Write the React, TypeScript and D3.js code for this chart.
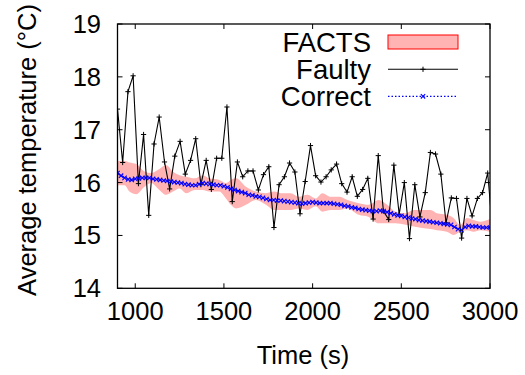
import React from "react";
import * as d3 from "d3";

const faultyTime = [900, 929, 959, 988, 1018, 1047, 1076, 1106, 1135, 1165, 1194, 1223, 1253, 1282, 1312, 1341, 1370, 1400, 1429, 1459, 1488, 1517, 1547, 1576, 1606, 1635, 1664, 1694, 1723, 1753, 1782, 1811, 1841, 1870, 1900, 1929, 1958, 1988, 2017, 2047, 2076, 2105, 2135, 2164, 2194, 2223, 2252, 2282, 2311, 2341, 2370, 2399, 2429, 2458, 2488, 2517, 2546, 2576, 2605, 2635, 2664, 2693, 2723, 2752, 2782, 2811, 2840, 2870, 2899, 2929, 2958, 2987, 3017];
const faultyTemp = [17.39, 16.38, 17.72, 18.02, 15.98, 16.91, 15.38, 16.73, 17.24, 16.39, 15.88, 16.50, 16.78, 16.16, 16.42, 16.83, 15.96, 16.42, 15.87, 16.46, 16.46, 17.43, 15.64, 16.39, 16.11, 16.22, 16.22, 15.86, 16.15, 16.30, 15.15, 15.96, 16.11, 16.37, 16.20, 15.41, 16.02, 16.70, 16.13, 16.01, 16.11, 16.24, 16.35, 15.98, 15.82, 16.11, 15.74, 15.87, 16.08, 15.31, 16.51, 15.46, 15.30, 16.33, 15.40, 16.00, 14.94, 15.96, 15.35, 15.81, 16.57, 16.54, 16.16, 15.24, 15.71, 15.70, 14.95, 15.70, 15.37, 15.70, 15.81, 16.18, 15.0];

const correctTime = [900, 920, 940, 960, 980, 1000, 1020, 1040, 1060, 1080, 1100, 1120, 1140, 1160, 1180, 1200, 1220, 1240, 1260, 1280, 1300, 1320, 1340, 1360, 1380, 1400, 1420, 1440, 1460, 1480, 1500, 1520, 1540, 1560, 1580, 1600, 1620, 1640, 1660, 1680, 1700, 1720, 1740, 1760, 1780, 1800, 1820, 1840, 1860, 1880, 1900, 1920, 1940, 1960, 1980, 2000, 2020, 2040, 2060, 2080, 2100, 2120, 2140, 2160, 2180, 2200, 2220, 2240, 2260, 2280, 2300, 2320, 2340, 2360, 2380, 2400, 2420, 2440, 2460, 2480, 2500, 2520, 2540, 2560, 2580, 2600, 2620, 2640, 2660, 2680, 2700, 2720, 2740, 2760, 2780, 2800, 2820, 2840, 2860, 2880, 2900, 2920, 2940, 2960, 2980, 3000];
const correctTemp = [16.18, 16.13, 16.09, 16.06, 16.05, 16.07, 16.08, 16.09, 16.09, 16.09, 16.07, 16.06, 16.05, 16.04, 16.03, 16.02, 16.01, 16.00, 15.99, 15.97, 15.96, 15.95, 15.95, 15.97, 15.99, 15.98, 15.97, 15.96, 15.95, 15.95, 15.93, 15.91, 15.88, 15.86, 15.84, 15.82, 15.80, 15.77, 15.76, 15.74, 15.73, 15.71, 15.69, 15.67, 15.67, 15.66, 15.66, 15.65, 15.64, 15.63, 15.62, 15.61, 15.60, 15.61, 15.62, 15.63, 15.62, 15.61, 15.61, 15.61, 15.61, 15.60, 15.59, 15.58, 15.56, 15.55, 15.53, 15.52, 15.50, 15.49, 15.48, 15.47, 15.46, 15.46, 15.47, 15.46, 15.44, 15.42, 15.40, 15.38, 15.37, 15.35, 15.34, 15.32, 15.31, 15.29, 15.28, 15.27, 15.26, 15.25, 15.24, 15.23, 15.22, 15.21, 15.20, 15.16, 15.12, 15.10, 15.16, 15.18, 15.17, 15.17, 15.16, 15.15, 15.15, 15.15];

const bandTime = [900, 940, 968, 1006, 1052, 1090, 1127, 1175, 1212, 1250, 1288, 1335, 1380, 1417, 1474, 1511, 1539, 1568, 1624, 1680, 1737, 1784, 1820, 1876, 1923, 1971, 2017, 2055, 2102, 2149, 2196, 2260, 2316, 2373, 2420, 2467, 2524, 2570, 2617, 2665, 2700, 2757, 2794, 2832, 2870, 2907, 2945, 3000];
const bandLow = [15.95, 15.95, 15.83, 15.78, 15.92, 15.99, 15.89, 15.77, 15.83, 15.89, 15.80, 15.86, 15.86, 15.83, 15.83, 15.70, 15.58, 15.51, 15.58, 15.67, 15.58, 15.48, 15.48, 15.48, 15.51, 15.48, 15.55, 15.45, 15.48, 15.48, 15.51, 15.39, 15.35, 15.23, 15.23, 15.23, 15.20, 15.17, 15.14, 15.12, 15.10, 15.07, 15.01, 15.07, 15.10, 15.07, 15.10, 15.07];
const bandHigh = [16.41, 16.41, 16.38, 16.35, 16.21, 16.18, 16.24, 16.33, 16.21, 16.14, 16.11, 16.08, 16.14, 16.08, 16.05, 15.99, 16.05, 16.08, 15.92, 15.83, 15.80, 15.83, 15.80, 15.80, 15.73, 15.77, 15.70, 15.80, 15.73, 15.73, 15.67, 15.61, 15.58, 15.67, 15.58, 15.45, 15.42, 15.48, 15.48, 15.48, 15.42, 15.39, 15.33, 15.20, 15.33, 15.29, 15.26, 15.31];

const xTicks = [1000, 1500, 2000, 2500, 3000];
const yTicks = [14, 15, 16, 17, 18, 19];
const seriesNames = ["FACTS", "Faulty", "Correct"];

const W = 525, H = 375;
const L = 117.5, R = 490, T = 24, B = 288.3;
const FONT = "'Liberation Sans', Arial, Helvetica, sans-serif";
const FS = 25.5;
const LFS = 27.5;

export default function App() {
  const x = d3.scaleLinear().domain([900, 3000]).range([L, R]);
  const y = d3.scaleLinear().domain([14, 19]).range([B, T]);

  const bandData = bandTime.map((t, i) => ({ t, lo: bandLow[i], hi: bandHigh[i] }));
  const area = d3.area<any>().x(d => x(d.t)).y0(d => y(d.lo)).y1(d => y(d.hi)).curve(d3.curveMonotoneX);
  const faulty = faultyTime.map((t, i) => [t, faultyTemp[i]] as [number, number]);
  const correct = correctTime.map((t, i) => [t, correctTemp[i]] as [number, number]);
  const line = d3.line<[number, number]>().x(d => x(d[0])).y(d => y(d[1]));

  const plus = (cx: number, cy: number, s = 2.6) => `M${cx - s},${cy}H${cx + s}M${cx},${cy - s}V${cy + s}`;
  const cross = (cx: number, cy: number, s = 2.2) => `M${cx - s},${cy - s}L${cx + s},${cy + s}M${cx - s},${cy + s}L${cx + s},${cy - s}`;

  const legX0 = 388, legX1 = 458, legText = 371;
  const legY = [42, 69.3, 96.3];

  return (
    <svg width={W} height={H} style={{ position: "absolute", left: 0, top: 0, background: "#fff" }} fontFamily={FONT}>
      <defs>
        <clipPath id="plotclip"><rect x={L} y={T} width={R - L} height={B - T} /></clipPath>
      </defs>
      <rect x={0} y={0} width={W} height={H} fill="#fff" />
      <g clipPath="url(#plotclip)">
        <path d={area(bandData) || ""} fill="#ffb3b3" stroke="none" />
        <path d={line(faulty) || ""} fill="none" stroke="#000" strokeWidth={1.1} />
        <path d={faulty.map(d => plus(x(d[0]), y(d[1]))).join("")} stroke="#000" strokeWidth={1} fill="none" />
        <path d={line(correct) || ""} fill="none" stroke="#0000ff" strokeWidth={1.2} strokeDasharray="1.5,2" />
        <path d={correct.map(d => cross(x(d[0]), y(d[1]))).join("")} stroke="#0000ff" strokeWidth={1.1} fill="none" />
      </g>
      {xTicks.map(t => (
        <g key={"xt" + t}>
          <line x1={x(t)} x2={x(t)} y1={B} y2={B - 5} stroke="#000" strokeWidth={1} />
          <line x1={x(t)} x2={x(t)} y1={T} y2={T + 5} stroke="#000" strokeWidth={1} />
          <text x={x(t)} y={319.5} textAnchor="middle" fontSize={FS} fill="#000">{t}</text>
        </g>
      ))}
      {yTicks.map(t => (
        <g key={"yt" + t}>
          <line x1={L} x2={L + 5} y1={y(t)} y2={y(t)} stroke="#000" strokeWidth={1} />
          <line x1={R} x2={R - 5} y1={y(t)} y2={y(t)} stroke="#000" strokeWidth={1} />
          <text x={101} y={y(t) + 9} textAnchor="end" fontSize={FS} fill="#000">{t}</text>
        </g>
      ))}
      <rect x={L} y={T} width={R - L} height={B - T} fill="none" stroke="#000" strokeWidth={1.3} />
      <text x={legText} y={legY[0] + 10} textAnchor="end" fontSize={LFS} fill="#000">{seriesNames[0]}</text>
      <rect x={legX0} y={legY[0] - 7} width={legX1 - legX0} height={14} fill="#ffb3b3" stroke="#ff0000" strokeWidth={1} />
      <text x={legText} y={legY[1] + 10} textAnchor="end" fontSize={LFS} fill="#000">{seriesNames[1]}</text>
      <line x1={legX0} x2={legX1} y1={legY[1]} y2={legY[1]} stroke="#000" strokeWidth={1.1} />
      <path d={plus((legX0 + legX1) / 2, legY[1])} stroke="#000" strokeWidth={1} />
      <text x={legText} y={legY[2] + 10} textAnchor="end" fontSize={LFS} fill="#000">{seriesNames[2]}</text>
      <line x1={legX0} x2={legX1} y1={legY[2]} y2={legY[2]} stroke="#0000ff" strokeWidth={1.2} strokeDasharray="1.5,2" />
      <path d={cross((legX0 + legX1) / 2, legY[2])} stroke="#0000ff" strokeWidth={1.1} />
      <text x={303} y={364} textAnchor="middle" fontSize={FS} fill="#000">Time (s)</text>
      <text transform={`translate(36,150) rotate(-90)`} textAnchor="middle" fontSize={FS} fill="#000">Average temperature (°C)</text>
    </svg>
  );
}
